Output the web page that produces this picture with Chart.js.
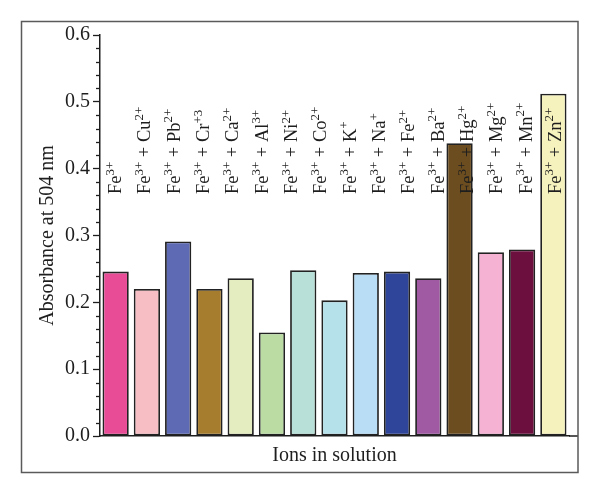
<!DOCTYPE html>
<html>
<head>
<meta charset="utf-8">
<script src="https://cdn.jsdelivr.net/npm/chart.js@4.4.1/dist/chart.umd.min.js"></script>
<style>
  html, body { margin: 0; padding: 0; background: #fff; }
  #wrap { width: 600px; height: 495px; }
</style>
</head>
<body>
<div id="wrap"><canvas id="ionChart"></canvas></div>
<script>
// bars (15 drawn in the figure)
const barCategories = ['1', '2', '3', '4', '5', '6', '7', '8', '9', '10', '11', '12', '13', '14', '15'];
const absorbance = [0.246, 0.220, 0.291, 0.220, 0.236, 0.155, 0.248, 0.203, 0.244, 0.246, 0.236, 0.438, 0.275, 0.279, 0.512];
const barColors = ['#e94c97', '#f7bec3', '#5e6bb4', '#a67c2e', '#e4edbf', '#bbdca3', '#b8e0d8', '#b5e2ea',
                   '#b9ddf4', '#2f4599', '#a05aa3', '#6b4d20', '#f5b2d2', '#6d0f3e', '#f6f2be'];

// ion labels written above the bars (16 in the figure)
const ionLabels = ['Fe^{3+}', 'Fe^{3+} + Cu^{2+}', 'Fe^{3+} + Pb^{2+}', 'Fe^{3+} + Cr^{+3}', 'Fe^{3+} + Ca^{2+}',
                   'Fe^{3+} + Al^{3+}', 'Fe^{3+} + Ni^{2+}', 'Fe^{3+} + Co^{2+}', 'Fe^{3+} + K^{+}', 'Fe^{3+} + Na^{+}',
                   'Fe^{3+} + Fe^{2+}', 'Fe^{3+} + Ba^{2+}', 'Fe^{3+} + Hg^{2+}', 'Fe^{3+} + Mg^{2+}', 'Fe^{3+} + Mn^{2+}',
                   'Fe^{3+} + Zn^{2+}'];

const yTickValues = [0, 0.1, 0.2, 0.3, 0.4, 0.5, 0.6];

const SERIF = '"Liberation Serif", "DejaVu Serif", serif';
const INK = '#1e1e1e';

// text with ^{...} superscripts, drawn from the current origin
function drawIonLabel(ctx, text, size) {
  const parts = text.split(/(\^\{[^}]*\})/).filter(Boolean);
  let x = 0;
  parts.forEach(p => {
    if (p.startsWith('^{')) {
      const s = p.slice(2, -1);
      ctx.font = (size * 0.7) + 'px ' + SERIF;
      ctx.fillText(s, x, -size * 0.4);
      x += ctx.measureText(s).width;
    } else {
      ctx.font = size + 'px ' + SERIF;
      ctx.fillText(p, x, 0);
      x += ctx.measureText(p).width;
    }
  });
}

const figurePlugin = {
  id: 'figure',
  beforeDraw(chart) {
    const ctx = chart.ctx;
    ctx.save();
    ctx.fillStyle = '#fff';
    ctx.fillRect(0, 0, chart.width, chart.height);
    ctx.restore();
  },
  afterDatasetsDraw(chart) {
    const ctx = chart.ctx;
    const x2 = chart.scales.x2;
    const y = chart.scales.y;
    const baseY = y.getPixelForValue(0.362);
    ctx.save();
    ctx.fillStyle = INK;
    ctx.textBaseline = 'alphabetic';
    ctx.textAlign = 'left';
    ionLabels.forEach((lab, i) => {
      ctx.save();
      ctx.translate(x2.getPixelForValue(i) + 6.5, baseY);
      ctx.rotate(-Math.PI / 2);
      drawIonLabel(ctx, lab, 18.5);
      ctx.restore();
    });
    ctx.restore();
  },
  afterDraw(chart) {
    const ctx = chart.ctx;
    const y = chart.scales.y;
    const area = chart.chartArea;
    ctx.save();
    ctx.strokeStyle = INK;
    // minor ticks
    ctx.lineWidth = 1.3;
    for (let k = 1; k < 30; k++) {
      if (k % 5 === 0) continue;
      const py = Math.round(y.getPixelForValue(k * 0.02)) + 0.5;
      ctx.beginPath();
      ctx.moveTo(area.left - 4, py);
      ctx.lineTo(area.left, py);
      ctx.stroke();
    }
    // x axis line runs on to the frame
    ctx.lineWidth = 1.5;
    ctx.beginPath();
    ctx.moveTo(area.right, area.bottom);
    ctx.lineTo(578, area.bottom);
    ctx.stroke();
    // outer frame
    ctx.strokeStyle = '#5a5a5a';
    ctx.lineWidth = 1.5;
    ctx.strokeRect(21.5, 21.5, 556.5, 451);
    ctx.restore();
  }
};

new Chart(document.getElementById('ionChart'), {
  type: 'bar',
  data: {
    labels: barCategories,
    datasets: [{
      data: absorbance,
      backgroundColor: barColors,
      borderColor: '#222',
      borderWidth: 1.8,
      borderSkipped: false,
      barPercentage: 0.84,
      categoryPercentage: 1
    }]
  },
  plugins: [figurePlugin],
  options: {
    responsive: true,
    maintainAspectRatio: false,
    animation: false,
    layout: { padding: { left: 0, right: 31, top: 35, bottom: 0 } },
    plugins: {
      legend: { display: false },
      tooltip: { enabled: false }
    },
    scales: {
      x: {
        type: 'category',
        offset: true,
        grid: { display: false },
        ticks: { display: false },
        border: { color: INK, width: 1.5 },
        title: {
          display: true,
          text: 'Ions in solution',
          color: INK,
          font: { family: SERIF, size: 20, lineHeight: 1.2 },
          padding: { top: 0, bottom: 27 }
        },
        afterFit(scale) { scale.height = 59; }
      },
      x2: {
        type: 'category',
        labels: ionLabels,
        offset: true,
        display: false
      },
      y: {
        min: 0,
        max: 0.6,
        afterBuildTicks(scale) { scale.ticks = yTickValues.map(v => ({ value: v })); },
        ticks: {
          callback: v => Number(v).toFixed(1),
          color: INK,
          padding: 3,
          font: { family: SERIF, size: 20 }
        },
        grid: { drawOnChartArea: false, drawTicks: true, tickLength: 7, tickColor: INK, tickWidth: 1.3 },
        border: { color: INK, width: 1.5 },
        title: {
          display: true,
          text: 'Absorbance at 504 nm',
          color: INK,
          font: { family: SERIF, size: 20, lineHeight: 1.2 },
          padding: { top: 36, bottom: 0 }
        },
        afterFit(scale) { scale.width = 100; }
      }
    }
  }
});
</script>
</body>
</html>
